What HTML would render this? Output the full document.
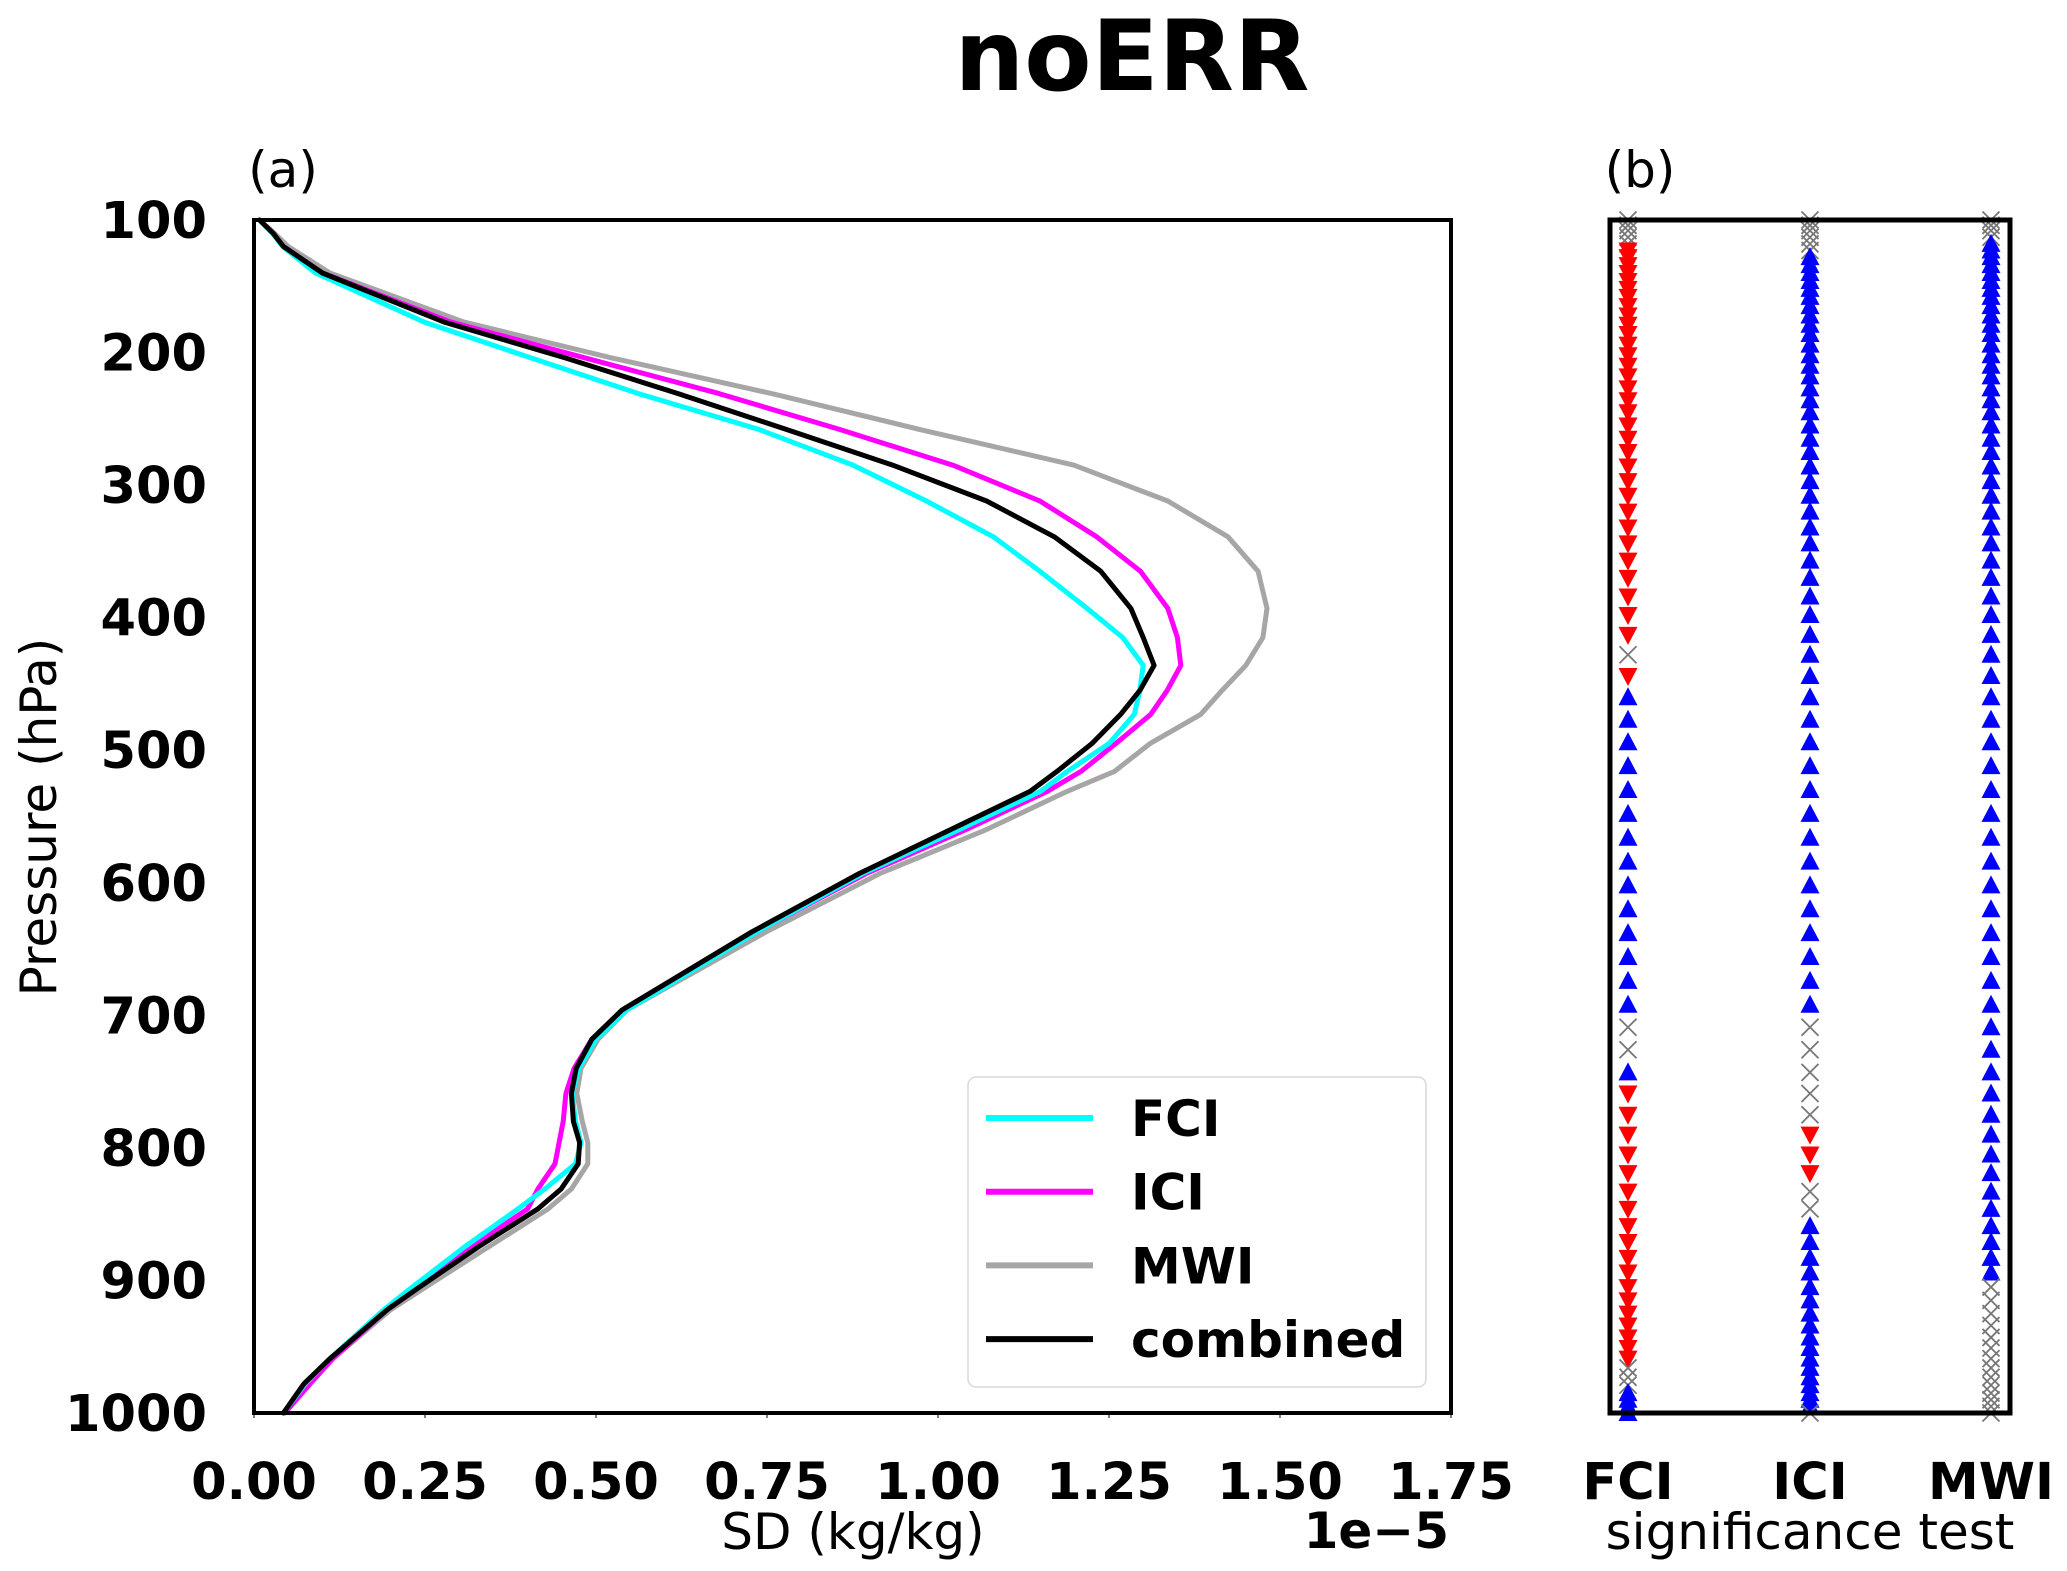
<!DOCTYPE html>
<html><head><meta charset="utf-8"><style>
html,body{margin:0;padding:0;background:#fff;}
svg{display:block;font-family:"DejaVu Sans","Liberation Sans",sans-serif;}
</style></head><body>
<svg id="chart" width="2067" height="1571" viewBox="0 0 2067 1571" xmlns="http://www.w3.org/2000/svg">
<text x="1132" y="90" font-size="98" font-weight="bold" text-anchor="middle">noERR</text>
<text x="283" y="187" font-size="50" text-anchor="middle">(a)</text>
<text x="1640" y="187" font-size="50" text-anchor="middle">(b)</text>
<text x="0" y="0" font-size="50" text-anchor="middle" transform="translate(56,817) rotate(-90)">Pressure (hPa)</text>
<text x="853" y="1549" font-size="50" text-anchor="middle">SD (kg/kg)</text>
<text x="1449" y="1548" font-size="50" font-weight="bold" text-anchor="end">1e−5</text>
<text x="1810" y="1549" font-size="50" text-anchor="middle">significance test</text>
<g id="gA"></g>
<g id="gB"></g>
</svg>
<script>
// ---- panel (a) data ----
const pressures = [100,110,120,140,177,204,231,258,285,312,339,365,393,415,436,455,473,495,516,531,560,593,637,696,718,740,759,780,796,812,831,846,875,906,922,959,978,1000];
const fciSD = [.008,.027,.042,.09,.249,.405,.562,.738,.876,.983,1.081,1.149,1.218,1.27,1.30,1.295,1.287,1.25,1.189,1.15,1.03,.89,.735,.545,.50,.475,.465,.47,.478,.47,.425,.386,.307,.229,.19,.111,.075,.043];
const iciSD = [.008,.027,.043,.10,.288,.484,.68,.856,1.022,1.149,1.232,1.296,1.336,1.35,1.355,1.335,1.311,1.26,1.209,1.16,1.04,.895,.735,.54,.494,.468,.456,.452,.446,.44,.415,.40,.317,.239,.195,.115,.082,.045];
const mwiSD = [.008,.03,.05,.111,.307,.523,.757,.973,1.199,1.336,1.424,1.468,1.481,1.475,1.45,1.415,1.384,1.31,1.258,1.189,1.07,.915,.749,.545,.503,.478,.472,.48,.488,.488,.464,.43,.342,.248,.20,.115,.078,.045];
const combinedSD = [.008,.028,.043,.10,.278,.455,.62,.778,.934,1.071,1.17,1.238,1.282,1.30,1.316,1.295,1.267,1.225,1.174,1.135,1.018,.885,.728,.538,.494,.471,.464,.467,.476,.474,.449,.415,.327,.239,.195,.111,.073,.043];
const xTicks = [0,0.25,0.5,0.75,1.0,1.25,1.5,1.75];
const xTickLabels = ["0.00","0.25","0.50","0.75","1.00","1.25","1.50","1.75"];
const yTicks = [100,200,300,400,500,600,700,800,900,1000];
const seriesNames = ["FCI","ICI","MWI","combined"];
// ---- panel (b) data ----
const sigLevels = [100,104,108,113,118,123,128,134,140,146,152,158,165,172,179,186,194,202,210,218,227,236,245,255,265,275,286,297,308,320,332,344,357,370,384,398,413,428,444,460,477,494,512,530,548,566,584,602,620,638,656,674,692,709,726,743,759,775,790,805,819,833,846,859,871,883,894,905,915,925,934,943,951,959,966,973,979,985,990,995,1000];
const sigInstruments = ["FCI","ICI","MWI"];
const sigFCI = "xxxxxddddddddddddddddddddddddddddddddxduuuuuuuuuuuuuuxxuddddddddddddddddddxxxuuuuu";
const sigICI = "xxxxxxuuuuuuuuuuuuuuuuuuuuuuuuuuuuuuuuuuuuuuuuuuuuuuuxxxxxdddxxuuuuuuuuuuuuuuuuux";
const sigMWI = "xxxxuuuuuuuuuuuuuuuuuuuuuuuuuuuuuuuuuuuuuuuuuuuuuuuuuuuuuuuuuuuuuuuxxxxxxxxxxxxxx";

const NS="http://www.w3.org/2000/svg";
function mk(tag,attrs,parent,txt){const e=document.createElementNS(NS,tag);for(const k in attrs)e.setAttribute(k,attrs[k]);if(txt!==undefined)e.textContent=txt;parent.appendChild(e);return e;}
const A={l:254,r:1451,t:220,b:1413};
const xs=v=>A.l+(v/1.75)*(A.r-A.l);
const ys=p=>A.t+(p-100)/900*(A.b-A.t);
const gA=document.getElementById('gA');
const colors=["#00ffff","#ff00ff","#a6a6a6","#000000"];
const sets=[fciSD,iciSD,mwiSD,combinedSD];
const order=[2,1,0,3];
order.forEach(i=>{
  const d=pressures.map((p,k)=>(k?'L':'M')+xs(sets[i][k]).toFixed(1)+','+ys(p).toFixed(1)).join(' ');
  const path=mk('path',{d:d,fill:'none',stroke:colors[i],'stroke-width':5,'stroke-linejoin':'round','stroke-linecap':'round'},gA);
  
  
});
xTicks.forEach((v,i)=>{
  const t=mk('text',{x:xs(v),y:1499,'font-size':51,'font-weight':'bold','text-anchor':'middle'},gA,xTickLabels[i]);
  
  
  mk('line',{x1:xs(v),x2:xs(v),y1:A.b,y2:A.b+5,stroke:'#000','stroke-width':1},gA);
});
yTicks.forEach(p=>{
  const t=mk('text',{x:207,y:ys(p)+18,'font-size':51,'font-weight':'bold','text-anchor':'end'},gA,String(p));
  
  
});
const lg=mk('g',{},gA);


mk('rect',{x:968,y:1077,width:458,height:310,rx:8,fill:'#fff','fill-opacity':0.8,stroke:'#d9d9d9','stroke-width':1.5},lg);
seriesNames.forEach((n,i)=>{
  const y=1118+i*73.7;
  const e=mk('g',{},lg);
  
  
  mk('line',{x1:986,x2:1093,y1:y,y2:y,stroke:colors[i],'stroke-width':6},e);
  mk('text',{x:1131,y:y+18,'font-size':50,'font-weight':'bold'},e,n);
});
const fa=mk('rect',{x:A.l,y:A.t,width:A.r-A.l,height:A.b-A.t,fill:'none',stroke:'#000','stroke-width':4},gA);



const B={l:1610,r:2010,t:220,b:1413};
const gB=document.getElementById('gB');
const colX=[1628,1810,1991];
const sigs=[sigFCI,sigICI,sigMWI];
sigs.forEach((s,ci)=>{
  const cx=colX[ci];
  sigLevels.forEach((p,k)=>{
    const c=s[k], y=ys(p);
    let m;
    if(c==='u'){m=mk('path',{d:`M${cx},${y-10} L${cx+9.5},${y+8} L${cx-9.5},${y+8} Z`,fill:'#0000ff'},gB);}
    else if(c==='d'){m=mk('path',{d:`M${cx},${y+10} L${cx+9.5},${y-8} L${cx-9.5},${y-8} Z`,fill:'#ff0000'},gB);}
    else {m=mk('path',{d:`M${cx-8.5},${y-8.5} L${cx+8.5},${y+8.5} M${cx+8.5},${y-8.5} L${cx-8.5},${y+8.5}`,stroke:'#777','stroke-width':1.8,fill:'none'},gB);}
    
    
  });
  const t=mk('text',{x:cx,y:1499,'font-size':51,'font-weight':'bold','text-anchor':'middle'},gB,sigInstruments[ci]);
  
  
});
const fb=mk('rect',{x:B.l,y:B.t,width:B.r-B.l,height:B.b-B.t,fill:'none',stroke:'#000','stroke-width':5},gB);


</script>
</body></html>
